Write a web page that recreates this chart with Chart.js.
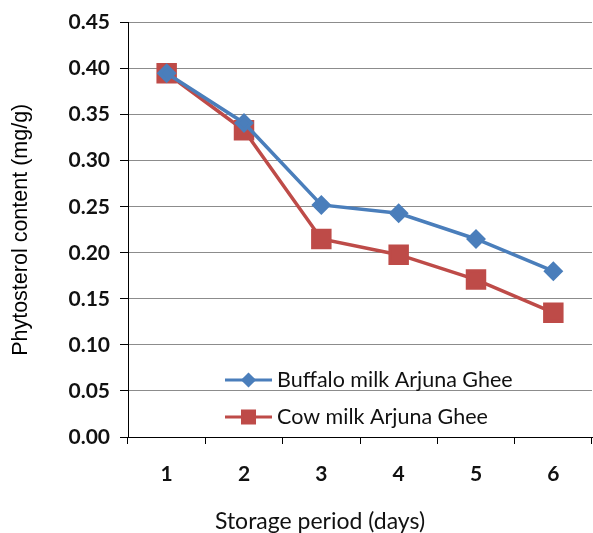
<!DOCTYPE html>
<html><head><meta charset="utf-8">
<script src="https://cdn.jsdelivr.net/npm/chart.js@4/dist/chart.umd.min.js"></script>
<style>html,body{margin:0;padding:0;background:#fff;overflow:hidden}#wrap{width:593px;height:533px}canvas{display:block}</style>
</head><body><div id="wrap"><canvas id="c" width="593" height="533"></canvas></div>
<script>
const days = ['1','2','3','4','5','6'];
const buffaloGhee = [0.395, 0.341, 0.252, 0.243, 0.215, 0.180];
const cowGhee = [0.395, 0.333, 0.215, 0.198, 0.171, 0.135];
const seriesNames = ['Buffalo milk Arjuna Ghee', 'Cow milk Arjuna Ghee'];
const yTitle = 'Phytosterol content (mg/g)';
const xTitle = 'Storage period (days)';

const BLUE = '#4A7EBB', RED = '#BE4B48';
const tickFont = {family: 'Lato', size: 21, weight: 'bold'};

const legendPlugin = {
  id: 'lineLegend',
  afterDraw(chart, args, opts) {
    const ctx = chart.ctx;
    ctx.save();
    chart.data.datasets.forEach((ds, i) => {
      const y = opts.y0 + i * opts.gap;
      const x0 = opts.x0, x1 = opts.x0 + opts.len;
      ctx.strokeStyle = ds.borderColor; ctx.lineWidth = 3;
      ctx.beginPath(); ctx.moveTo(x0, y); ctx.lineTo(x1, y); ctx.stroke();
      ctx.fillStyle = ds.pointBackgroundColor;
      ctx.strokeStyle = ds.pointBackgroundColor;
      Chart.helpers.drawPoint(ctx, {pointStyle: ds.pointStyle, radius: opts.radii[i], borderWidth: 1}, (x0 + x1) / 2, y);
      ctx.fillStyle = '#111';
      ctx.font = '21.5px Lato';
      ctx.textBaseline = 'middle';
      ctx.textAlign = 'left';
      ctx.fillText(ds.label, x1 + 5, y);
    });
    ctx.restore();
  }
};

const xTitlePlugin = {
  id: 'xTitleText',
  afterDraw(chart, args, opts) {
    const ctx = chart.ctx;
    ctx.save();
    ctx.fillStyle = '#111';
    ctx.font = '23px Lato';
    ctx.textAlign = 'center';
    ctx.textBaseline = 'middle';
    ctx.fillText(opts.text, opts.x, opts.y);
    ctx.restore();
  }
};

new Chart(document.getElementById('c'), {
  type: 'line',
  data: {
    labels: days,
    datasets: [
      {label: seriesNames[0], data: buffaloGhee, borderColor: BLUE, backgroundColor: BLUE,
       pointBackgroundColor: BLUE, pointBorderColor: BLUE, pointStyle: 'rectRot', pointRadius: 7.5,
       borderWidth: 3.5, tension: 0},
      {label: seriesNames[1], data: cowGhee, borderColor: RED, backgroundColor: RED,
       pointBackgroundColor: RED, pointBorderColor: RED, pointStyle: 'rect', pointRadius: 12,
       borderWidth: 3.5, tension: 0}
    ]
  },
  options: {
    responsive: false, animation: false,
    layout: {autoPadding: false, padding: {top: 21, right: 1, left: 0, bottom: 0}},
    plugins: {
      legend: {display: false},
      tooltip: {enabled: false},
      title: {display: false},
      lineLegend: {x0: 225, y0: 380, gap: 37, len: 47, radii: [5.5, 8.5]},
      xTitleText: {text: xTitle, x: 320, y: 522}
    },
    scales: {
      x: {
        offset: true,
        grid: {display: true, drawOnChartArea: false, offset: true, tickLength: 7, color: '#000', lineWidth: 1},
        border: {color: '#000', width: 1},
        ticks: {font: tickFont, color: '#111', padding: 18, maxRotation: 0},
        afterFit(s) { s.height = 96; s.paddingLeft = 0; s.paddingRight = 0; }
      },
      y: {
        min: 0, max: 0.45,
        ticks: {stepSize: 0.05, font: tickFont, color: '#111', padding: 10,
                callback: v => v.toFixed(2)},
        grid: {color: '#8c8c8c', lineWidth: 1, tickLength: 8, tickColor: '#000'},
        border: {color: '#000', width: 1},
        title: {display: true, text: yTitle, color: '#000',
                font: {family: 'Liberation Sans', size: 21.5}, padding: {top: 8, bottom: 0}},
        afterFit(s) { s.width = 128; }
      }
    }
  },
  plugins: [legendPlugin, xTitlePlugin]
});
</script></body></html>
